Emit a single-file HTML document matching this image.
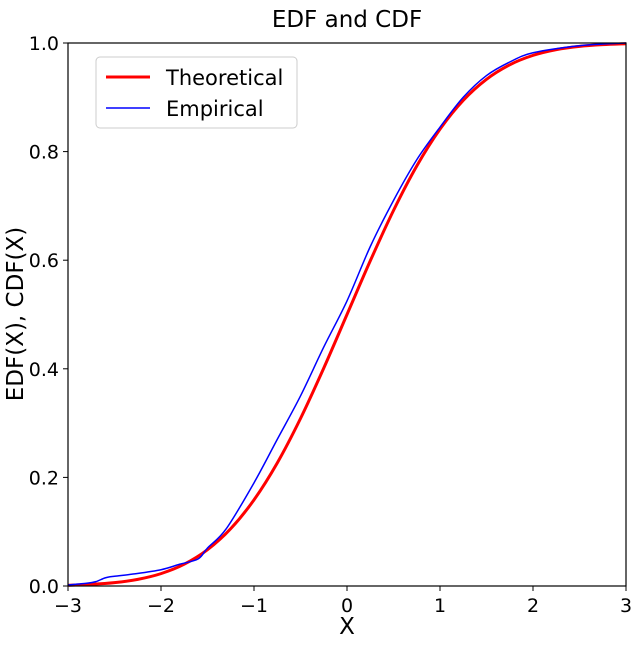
<!DOCTYPE html>
<html><head><meta charset="utf-8"><style>
body{margin:0;background:#fff;font-family:"DejaVu Sans","Liberation Sans",sans-serif}
</style></head><body>
<svg id="chart" width="638" height="642" xmlns="http://www.w3.org/2000/svg" font-family="DejaVu Sans, Liberation Sans, sans-serif">
<rect width="638" height="642" fill="#fff"/>
<text x="347" y="27" font-size="23" text-anchor="middle">EDF and CDF</text>
<g id="ticks"></g>
<g id="series"></g>
<rect x="68" y="43" width="558" height="543" fill="none" stroke="#000" stroke-width="1.2"/>
<text x="347" y="634" font-size="23" text-anchor="middle">X</text>
<text transform="translate(23,314) rotate(-90)" font-size="23" text-anchor="middle">EDF(X), CDF(X)</text>
<g>
<rect x="96" y="57" width="201" height="71" rx="4" fill="#fff" stroke="#ccc" stroke-width="1"/>
<line x1="106" y1="77" x2="150" y2="77" stroke="#f00" stroke-width="3"/>
<text x="166" y="85" font-size="21">Theoretical</text>
<line x1="106" y1="108" x2="150" y2="108" stroke="#00f" stroke-width="1.5"/>
<text x="166" y="116" font-size="21">Empirical</text>
</g>
</svg>
<script>
const xTicks=[-3,-2,-1,0,1,2,3];
const xTickLabels=["\u22123","\u22122","\u22121","0","1","2","3"];
const yTicks=[0,0.2,0.4,0.6,0.8,1.0];
const yTickLabels=["0.0","0.2","0.4","0.6","0.8","1.0"];
const theoX=[-3,-2.75,-2.5,-2.25,-2,-1.75,-1.5,-1.25,-1,-0.75,-0.5,-0.25,0,0.25,0.5,0.75,1,1.25,1.5,1.75,2,2.25,2.5,2.75,3];
const theoY=[0.0013,0.003,0.0062,0.0122,0.0228,0.0401,0.0668,0.1056,0.1587,0.2266,0.3085,0.4013,0.5,0.5987,0.6915,0.7734,0.8413,0.8944,0.9332,0.9599,0.9772,0.9878,0.9938,0.997,0.9987];
const empX=[-3,-2.8,-2.7,-2.6,-2.5,-2.3,-2.0,-1.8,-1.6,-1.5,-1.3,-1.0,-0.75,-0.5,-0.25,0,0.25,0.5,0.75,1.0,1.25,1.5,1.75,2,2.5,3];
const empY=[0.002,0.005,0.008,0.015,0.018,0.022,0.03,0.04,0.05,0.07,0.105,0.19,0.27,0.35,0.44,0.525,0.625,0.71,0.785,0.845,0.9,0.94,0.965,0.982,0.995,1.0];
const NS="http://www.w3.org/2000/svg";
const sx=v=>68+(v+3)/6*558, sy=v=>586-v*543;
const tk=document.getElementById('ticks'), se=document.getElementById('series');
function mk(t,a){const e=document.createElementNS(NS,t);for(const k in a)e.setAttribute(k,a[k]);return e;}
xTicks.forEach((v,i)=>{
 const l=mk('line',{x1:sx(v),x2:sx(v),y1:586,y2:591,stroke:'#000'});
 
 
 tk.appendChild(l);
 const t=mk('text',{x:sx(v),y:612,'font-size':19,'text-anchor':'middle'});
 
 
 t.textContent=xTickLabels[i];tk.appendChild(t);
});
yTicks.forEach((v,i)=>{
 const l=mk('line',{x1:63,x2:68,y1:sy(v),y2:sy(v),stroke:'#000'});
 
 
 tk.appendChild(l);
 const t=mk('text',{x:59,y:sy(v)+7,'font-size':19,'text-anchor':'end'});
 
 
 t.textContent=yTickLabels[i];tk.appendChild(t);
});
function smooth(xs,ys){
 const p=xs.map((x,i)=>[sx(x),sy(ys[i])]);
 let d='M'+p[0][0]+','+p[0][1];
 for(let i=0;i<p.length-1;i++){
  const p0=p[i-1]||p[i],p1=p[i],p2=p[i+1],p3=p[i+2]||p2;
  d+=` C${p1[0]+(p2[0]-p0[0])/6},${p1[1]+(p2[1]-p0[1])/6} ${p2[0]-(p3[0]-p1[0])/6},${p2[1]-(p3[1]-p1[1])/6} ${p2[0]},${p2[1]}`;
 }
 return d;
}
const th=mk('path',{d:smooth(theoX,theoY),fill:'none',stroke:'#f00','stroke-width':3});


se.appendChild(th);
const em=mk('path',{d:smooth(empX,empY),fill:'none',stroke:'#00f','stroke-width':1.5});


se.appendChild(em);
</script>
</body></html>
